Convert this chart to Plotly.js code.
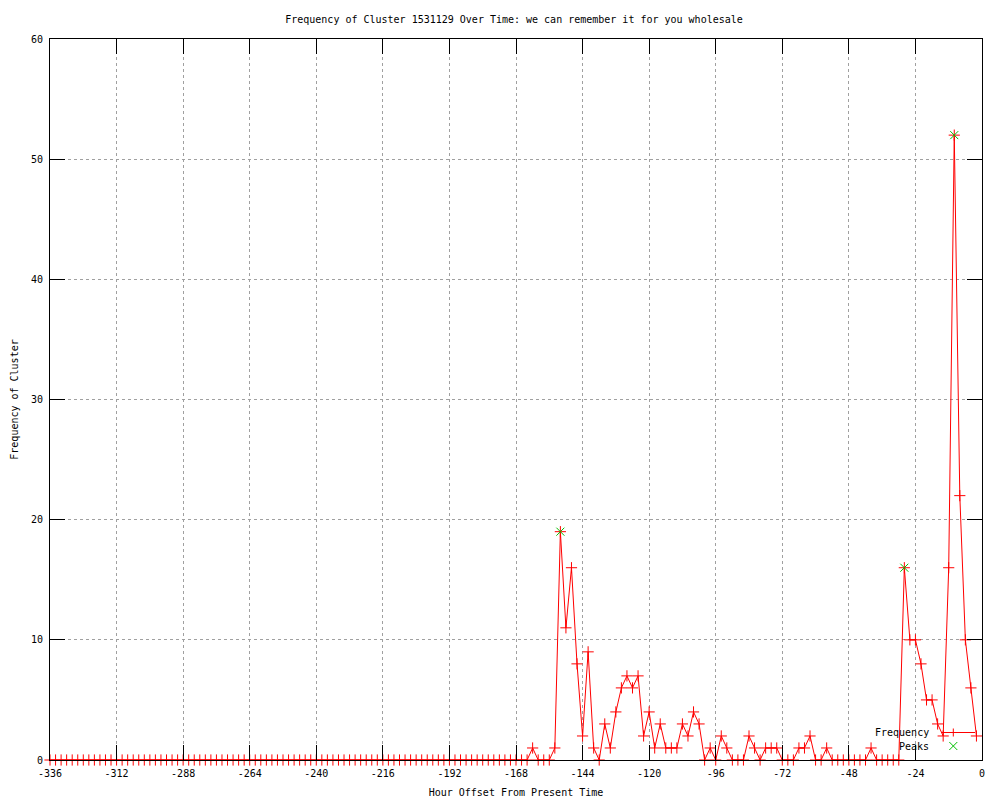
<!DOCTYPE html>
<html>
<head>
<meta charset="utf-8">
<script src="https://cdn.plot.ly/plotly-3.0.1.min.js"></script>
<style>
html,body{margin:0;padding:0;background:#fff;}
#chart{width:1000px;height:800px;}
</style>
</head>
<body>
<div id="chart"></div>
<script>
// Hour offsets (x categories)
const hours = [
-336,-334,-332,-330,-328,-326,-324,-322,-320,-318,
-316,-314,-312,-310,-308,-306,-304,-302,-300,-298,
-296,-294,-292,-290,-288,-286,-284,-282,-280,-278,
-276,-274,-272,-270,-268,-266,-264,-262,-260,-258,
-256,-254,-252,-250,-248,-246,-244,-242,-240,-238,
-236,-234,-232,-230,-228,-226,-224,-222,-220,-218,
-216,-214,-212,-210,-208,-206,-204,-202,-200,-198,
-196,-194,-192,-190,-188,-186,-184,-182,-180,-178,
-176,-174,-172,-170,-168,-166,-164,-162,-160,-158,
-156,-154,-152,-150,-148,-146,-144,-142,-140,-138,
-136,-134,-132,-130,-128,-126,-124,-122,-120,-118,
-116,-114,-112,-110,-108,-106,-104,-102,-100,-98,
-96,-94,-92,-90,-88,-86,-84,-82,-80,-78,
-76,-74,-72,-70,-68,-66,-64,-62,-60,-58,
-56,-54,-52,-50,-48,-46,-44,-42,-40,-38,
-36,-34,-32,-30,-28,-26,-24,-22,-20,-18,
-16,-14,-12,-10,-8,-6,-4,-2
];

// Frequency of cluster per hour offset
const frequency = [
0,0,0,0,0,0,0,0,0,0,
0,0,0,0,0,0,0,0,0,0,
0,0,0,0,0,0,0,0,0,0,
0,0,0,0,0,0,0,0,0,0,
0,0,0,0,0,0,0,0,0,0,
0,0,0,0,0,0,0,0,0,0,
0,0,0,0,0,0,0,0,0,0,
0,0,0,0,0,0,0,0,0,0,
0,0,0,0,0,0,0,1,0,0,
0,1,19,11,16,8,2,9,1,0,
3,1,4,6,7,6,7,2,4,1,
3,1,1,1,3,2,4,3,0,1,
0,2,1,0,0,0,2,1,0,1,
1,1,0,0,0,1,1,2,0,0,
1,0,0,0,0,0,0,0,1,0,
0,0,0,0,16,10,10,8,5,5,
3,2,16,52,22,10,6,2
];

// Peaks
const peakHours = [-152, -28, -10];
const peakValues = [19, 16, 52];

// Axis ticks
const xTicks = [-336,-312,-288,-264,-240,-216,-192,-168,-144,-120,-96,-72,-48,-24,0];
const yTicks = [0,10,20,30,40,50,60];

const legendLabels = ['Frequency', 'Peaks'];

const FONT = 'DejaVu Sans Mono, monospace';
const RED = '#ff0000';
const GREEN = '#00c000';

// plot-area geometry (pixels) for legend key placement
const L = 50, R = 982, T = 39, B = 760;
const px = x => (x - L) / (R - L);
const py = y => (B - y) / (B - T);

const traces = [
  {
    x: hours, y: frequency, type: 'scatter', mode: 'lines+markers',
    name: legendLabels[0],
    line: {color: RED, width: 1},
    marker: {symbol: 'cross-thin-open', size: 8, line: {color: RED, width: 1}, color: RED},
    cliponaxis: false, showlegend: false
  },
  {
    x: peakHours, y: peakValues, type: 'scatter', mode: 'markers',
    name: legendLabels[1],
    marker: {symbol: 'x-thin-open', size: 8, line: {color: GREEN, width: 1}, color: GREEN},
    cliponaxis: false, showlegend: false
  }
];

// legend key (gnuplot style: text on the left, sample on the right)
const kx0 = 941, kx1 = 975, kc = 953.3, ky1 = 732.5, ky2 = 746;
const shapes = [
  {type:'line', xref:'paper', yref:'paper', x0:px(kx0), x1:px(kx1), y0:py(ky1), y1:py(ky1), line:{color:RED,width:1}},
  {type:'line', xref:'paper', yref:'paper', x0:px(kc), x1:px(kc), y0:py(ky1-4), y1:py(ky1+4), line:{color:RED,width:1}},
  {type:'line', xref:'paper', yref:'paper', x0:px(kc-4), x1:px(kc+4), y0:py(ky2-4), y1:py(ky2+4), line:{color:GREEN,width:1}},
  {type:'line', xref:'paper', yref:'paper', x0:px(kc-4), x1:px(kc+4), y0:py(ky2+4), y1:py(ky2-4), line:{color:GREEN,width:1}}
];
const annotations = [
  {xref:'paper', yref:'paper', x:px(931), y:py(ky1), xanchor:'right', yanchor:'middle', showarrow:false,
   text: legendLabels[0], font:{family:FONT, size:10, color:'#000'}},
  {xref:'paper', yref:'paper', x:px(931), y:py(ky2), xanchor:'right', yanchor:'middle', showarrow:false,
   text: legendLabels[1], font:{family:FONT, size:10, color:'#000'}}
];

const axisCommon = {
  showline: true, linecolor: '#000', linewidth: 1, mirror: 'ticks',
  ticks: 'inside', ticklen: 15, tickwidth: 1, tickcolor: '#000',
  showgrid: true, gridcolor: '#a0a0a0', gridwidth: 1, griddash: 'dot',
  zeroline: false, automargin: false,
  tickfont: {family: FONT, size: 10, color: '#000'}
};

const layout = {
  width: 1000, height: 800,
  paper_bgcolor: '#fff', plot_bgcolor: '#fff',
  margin: {l: L, r: 1000 - R, t: T, b: 800 - B, pad: 0},
  showlegend: false,
  title: {
    text: 'Frequency of Cluster 1531129 Over Time: we can remember it for you wholesale',
    font: {family: FONT, size: 10, color: '#000'},
    x: 0.514, xanchor: 'center', y: 1 - 19/800, yanchor: 'middle'
  },
  xaxis: Object.assign({}, axisCommon, {
    range: [-336, 0], tickmode: 'array', tickvals: xTicks, ticktext: xTicks.map(String),
    ticklabelstandoff: 4,
    title: {text: 'Hour Offset From Present Time', font: {family: FONT, size: 10, color: '#000'}, standoff: 10}
  }),
  yaxis: Object.assign({}, axisCommon, {
    range: [0, 60], tickmode: 'array', tickvals: yTicks, ticktext: yTicks.map(String),
    ticklabelstandoff: 4,
    title: {text: 'Frequency of Cluster', font: {family: FONT, size: 10, color: '#000'}, standoff: 10}
  }),
  shapes: shapes,
  annotations: annotations,
  font: {family: FONT, size: 10, color: '#000'}
};

Plotly.newPlot('chart', traces, layout, {displayModeBar: false, staticPlot: true});
</script>
</body>
</html>
